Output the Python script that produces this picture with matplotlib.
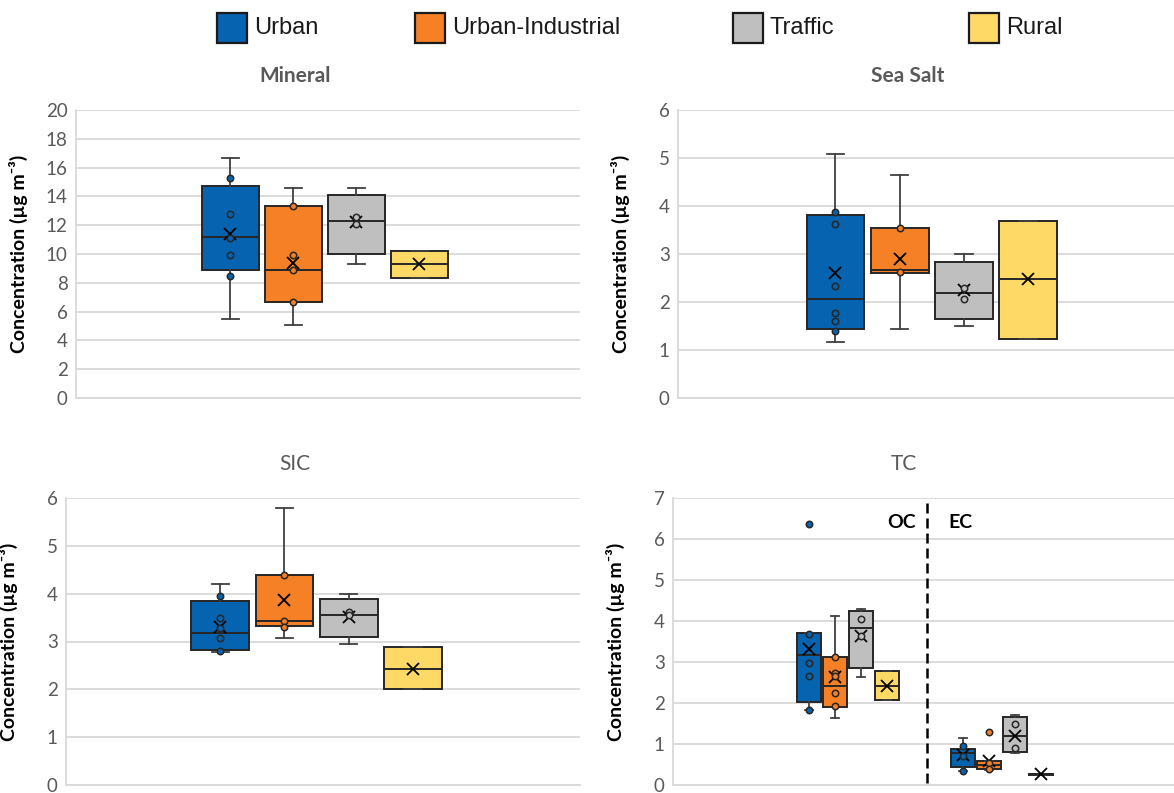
import matplotlib
matplotlib.use("Agg")
import matplotlib.pyplot as plt
from matplotlib.patches import Rectangle

plt.rcParams["font.family"] = ["Lato", "DejaVu Sans"]

categories = ["Urban", "Urban-Industrial", "Traffic", "Rural"]
colors = ["#0563B0", "#F58025", "#BFBFBF", "#FFD966"]

# each box: [whisker low, Q1, median, Q3, whisker high]
mineral_box = [
    [5.5, 8.9, 11.2, 14.7, 16.7],
    [5.1, 6.7, 8.9, 13.3, 14.6],
    [9.3, 10.0, 12.3, 14.1, 14.6],
    [8.3, 8.3, 9.3, 10.2, 10.2],
]
mineral_mean = [11.4, 9.4, 12.2, 9.3]
mineral_points = [[15.3, 12.8, 11.1, 9.9, 8.5], [13.3, 9.9, 8.9, 6.7], [12.6, 12.1], []]

seasalt_box = [
    [1.16, 1.44, 2.06, 3.81, 5.09],
    [1.44, 2.61, 2.67, 3.55, 4.64],
    [1.50, 1.64, 2.19, 2.83, 3.01],
    [1.23, 1.23, 2.47, 3.69, 3.69],
]
seasalt_mean = [2.61, 2.90, 2.24, 2.47]
seasalt_points = [[3.87, 3.62, 2.34, 1.77, 1.60, 1.39], [3.55, 2.62], [2.30, 2.07], []]

sic_box = [
    [2.79, 2.82, 3.18, 3.84, 4.21],
    [3.07, 3.33, 3.43, 4.40, 5.80],
    [2.95, 3.09, 3.55, 3.89, 4.00],
    [2.00, 2.00, 2.43, 2.89, 2.89],
]
sic_mean = [3.31, 3.86, 3.52, 2.43]
sic_points = [[3.95, 3.50, 3.28, 3.08, 2.80], [4.39, 3.43, 3.31], [3.61, 3.55], []]

tc_groups = ["OC", "EC"]
oc_box = [
    [1.83, 2.03, 3.17, 3.70, 3.70],
    [1.64, 1.91, 2.42, 3.11, 4.12],
    [2.63, 2.86, 3.82, 4.25, 4.29],
    [2.07, 2.07, 2.42, 2.78, 2.78],
]
oc_mean = [3.32, 2.63, 3.64, 2.42]
oc_points = [[3.68, 2.98, 2.66, 1.83], [3.11, 2.74, 2.66, 2.24, 1.93], [4.05, 3.64], []]
oc_outliers = [[6.37], [], [], []]

ec_box = [
    [0.34, 0.43, 0.78, 0.89, 1.15],
    [0.37, 0.40, 0.50, 0.59, 0.59],
    [0.78, 0.80, 1.20, 1.67, 1.71],
    [0.24, 0.24, 0.26, 0.28, 0.28],
]
ec_mean = [0.73, 0.59, 1.20, 0.26]
ec_points = [[0.95, 0.71, 0.34], [0.53, 0.40], [1.49, 0.91], []]
ec_outliers = [[], [1.30], [], []]

W, H = 1174, 793
EDGE = "#262626"
TICK_GRAY = "#595959"
GRID = "#D9D9D9"

fig = plt.figure(figsize=(W / 100, H / 100), dpi=100)


def make_axes(left, top, right, bottom):
    return fig.add_axes([left / W, 1 - bottom / H, (right - left) / W, (bottom - top) / H])


def style_axes(ax, ymax, step, xlim):
    ax.set_xlim(*xlim)
    ax.set_ylim(0, ymax)
    ax.set_yticks([i * step for i in range(int(round(ymax / step)) + 1)])
    ax.yaxis.grid(True, color=GRID, lw=1.3)
    ax.set_axisbelow(True)
    for s in ("top", "right"):
        ax.spines[s].set_visible(False)
    for s in ("left", "bottom"):
        ax.spines[s].set_color(GRID)
        ax.spines[s].set_linewidth(1.3)
    ax.tick_params(axis="y", length=0, pad=6, labelsize=13.5, labelcolor=TICK_GRAY)
    ax.set_ylabel("Concentration (µg m⁻³)", fontsize=14, fontweight="bold", color="black")
    # label sits about 48 px left of the plot area
    width_px = ax.get_position().width * W
    ax.yaxis.set_label_coords(-48 / width_px, 0.5)


def draw_boxes(ax, positions, box, mean, points, outliers, width):
    stats = []
    for b, m, fl in zip(box, mean, outliers):
        stats.append(dict(whislo=b[0], q1=b[1], med=b[2], q3=b[3], whishi=b[4],
                          mean=m, fliers=fl))
    art = ax.bxp(stats, positions=positions, widths=width, capwidths=width * 0.3,
                 patch_artist=True, showmeans=True, showfliers=False, manage_ticks=False,
                 boxprops=dict(edgecolor=EDGE, lw=1.4),
                 medianprops=dict(color=EDGE, lw=1.4),
                 whiskerprops=dict(color="#404040", lw=1.3),
                 capprops=dict(color="#404040", lw=1.3),
                 meanprops=dict(marker="x", markersize=9, markeredgecolor="black",
                                markeredgewidth=1.3))
    for patch, c in zip(art["boxes"], colors):
        patch.set_facecolor(c)
    for x, pts, fl, c in zip(positions, points, outliers, colors):
        vals = list(pts) + list(fl)
        if vals:
            ax.plot([x] * len(vals), vals, ls="none", marker="o", markersize=4.6,
                    markerfacecolor=c, markeredgecolor=EDGE, markeredgewidth=1.1, zorder=5)


offsets = [-1.5, -0.5, 0.5, 1.5]

ax1 = make_axes(76, 110, 580, 398)
style_axes(ax1, 20, 2, (-3.95, 4.05))
draw_boxes(ax1, offsets, mineral_box, mineral_mean, mineral_points, [[]] * 4, 0.9)

ax2 = make_axes(678, 110, 1192, 398)
style_axes(ax2, 6, 1, (-3.95, 4.05))
draw_boxes(ax2, offsets, seasalt_box, seasalt_mean, seasalt_points, [[]] * 4, 0.9)

ax3 = make_axes(66, 498, 580, 785)
style_axes(ax3, 6, 1, (-3.9, 4.1))
draw_boxes(ax3, offsets, sic_box, sic_mean, sic_points, [[]] * 4, 0.9)

# TC: OC and EC groups side by side, split by a dashed line
ax4 = make_axes(673, 498, 1192, 785)
style_axes(ax4, 7, 1, (-1.136, 2.234))
pitch = 0.169
draw_boxes(ax4, [0 + o * pitch for o in offsets], oc_box, oc_mean, oc_points, oc_outliers, 0.156)
draw_boxes(ax4, [1 + o * pitch for o in offsets], ec_box, ec_mean, ec_points, ec_outliers, 0.156)
ax4.axvline(0.513, ymin=0.007, ymax=0.986, color="black", lw=1.8, ls=(0, (4, 2)))
ax4.text(0.44, 6.41, tc_groups[0], ha="right", va="center", fontsize=14, fontweight="bold")
ax4.text(0.65, 6.41, tc_groups[1], ha="left", va="center", fontsize=14, fontweight="bold")

for ax in (ax1, ax2, ax3, ax4):
    ax.set_xticks([])

# panel titles
fig.text(295 / W, 1 - 76 / H, "Mineral", ha="center", va="center", fontsize=15,
         fontweight="bold", color=TICK_GRAY)
fig.text(908 / W, 1 - 76 / H, "Sea Salt", ha="center", va="center", fontsize=15,
         fontweight="bold", color=TICK_GRAY)
fig.text(295 / W, 1 - 464 / H, "SIC", ha="center", va="center", fontsize=15, color=TICK_GRAY)
fig.text(904 / W, 1 - 464 / H, "TC", ha="center", va="center", fontsize=15, color=TICK_GRAY)

# legend across the top
legend_x = [217, 415, 733, 969]
for x, name, c in zip(legend_x, categories, colors):
    fig.add_artist(Rectangle((x / W, 1 - 43 / H), 30 / W, 30 / H, transform=fig.transFigure,
                             facecolor=c, edgecolor="#1a1a1a", lw=1.6))
    fig.text((x + 37) / W, 1 - 28 / H, name, ha="left", va="center", fontsize=17,
             family=["Liberation Sans", "DejaVu Sans"], color="#1a1a1a")

fig.savefig("out.png", dpi=100, facecolor="white")
